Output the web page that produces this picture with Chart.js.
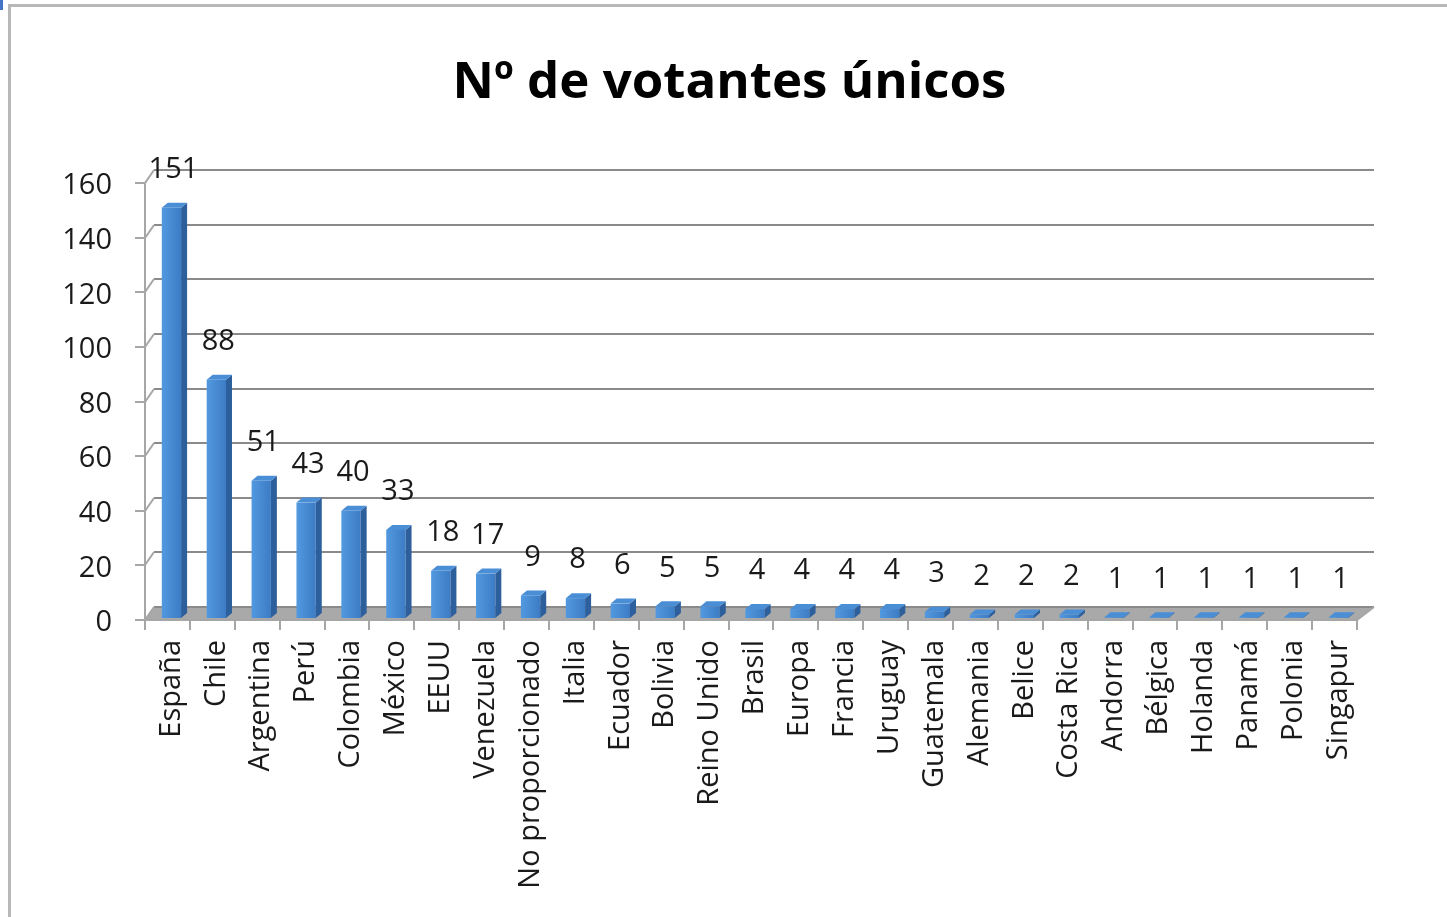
<!DOCTYPE html>
<html><head><meta charset="utf-8">
<script src="https://cdn.jsdelivr.net/npm/chart.js@4/dist/chart.umd.min.js"></script>
<style>html,body{margin:0;padding:0;background:#fff;overflow:hidden}</style>
</head><body>
<canvas id="c" width="1447" height="917" style="display:block;width:1447px;height:917px"></canvas>
<script>
const chartTitle = 'Nº de votantes únicos';
const categories = ['España','Chile','Argentina','Perú','Colombia','México','EEUU','Venezuela','No proporcionado','Italia','Ecuador','Bolivia','Reino Unido','Brasil','Europa','Francia','Uruguay','Guatemala','Alemania','Belice','Costa Rica','Andorra','Bélgica','Holanda','Panamá','Polonia','Singapur'];
const votantes = [151,88,51,43,40,33,18,17,9,8,6,5,5,4,4,4,4,3,2,2,2,1,1,1,1,1,1];
const yTicks = [0,20,40,60,80,100,120,140,160];

const FONT = '"Open Sans", sans-serif';
const DX_L = 9, DX_R = 17, DY = 13, SHIFT = 4;

const framePlugin = {
  id: 'frame',
  beforeDraw(chart) {
    const ctx = chart.ctx;
    ctx.save();
    ctx.fillStyle = '#fff';
    ctx.fillRect(0, 0, chart.width, chart.height);
    ctx.strokeStyle = '#b8b8b8';
    ctx.lineWidth = 3;
    ctx.beginPath();
    ctx.moveTo(9.5, chart.height);
    ctx.lineTo(9.5, 5.5);
    ctx.lineTo(chart.width, 5.5);
    ctx.stroke();
    ctx.fillStyle = '#4472c4';
    ctx.fillRect(0, 0, 3, 10);
    ctx.restore();
  }
};

const wallPlugin = {
  id: 'wall',
  beforeDatasetsDraw(chart) {
    const ctx = chart.ctx, a = chart.chartArea;
    const y = chart.scales.y, x = chart.scales.x;
    const L = a.left - SHIFT, R = a.right - SHIFT;
    const y0 = y.getPixelForValue(0);
    ctx.save();
    // floor
    ctx.fillStyle = '#a9a9a9';
    ctx.beginPath();
    ctx.moveTo(L, y0);
    ctx.lineTo(R, y0);
    ctx.lineTo(R + DX_R, y0 - DY);
    ctx.lineTo(L + DX_L, y0 - DY);
    ctx.closePath();
    ctx.fill();
    ctx.strokeStyle = '#cfcfcf';
    ctx.lineWidth = 1;
    ctx.stroke();
    // back gridlines
    ctx.strokeStyle = '#8a8a8a';
    ctx.lineWidth = 2;
    yTicks.forEach(v => {
      const py = Math.round(y.getPixelForValue(v)) - DY;
      ctx.beginPath();
      ctx.moveTo(L + DX_L, py);
      ctx.lineTo(R + DX_R, py);
      ctx.stroke();
    });
    // left axis
    ctx.strokeStyle = '#a6a6a6';
    ctx.lineWidth = 2;
    ctx.beginPath();
    ctx.moveTo(L, y.getPixelForValue(160));
    ctx.lineTo(L, y0);
    ctx.stroke();
    yTicks.forEach(v => {
      const py = Math.round(y.getPixelForValue(v));
      ctx.beginPath();
      ctx.moveTo(L - 10, py);
      ctx.lineTo(L, py);
      ctx.lineTo(L + DX_L, py - DY);
      ctx.stroke();
    });
    // front floor edge + x ticks
    ctx.beginPath();
    ctx.moveTo(L, y0);
    ctx.lineTo(R, y0);
    ctx.lineTo(R + DX_R, y0 - DY);
    ctx.stroke();
    const half = (x.getPixelForValue(1) - x.getPixelForValue(0)) / 2;
    for (let i = 0; i <= categories.length; i++) {
      const px = Math.round(x.getPixelForValue(i) - half - SHIFT);
      ctx.beginPath();
      ctx.moveTo(px, y0);
      ctx.lineTo(px, y0 + 10);
      ctx.stroke();
    }
    ctx.restore();
  },
  afterDatasetsDraw(chart) {
    const ctx = chart.ctx;
    const meta = chart.getDatasetMeta(0);
    ctx.save();
    meta.data.forEach((bar, i) => {
      const p = bar.getProps(['x', 'y', 'width', 'base'], true);
      const l = p.x - p.width / 2, r = p.x + p.width / 2;
      const sd = 6, su = 5;
      const base = p.base - 2;
      const g = ctx.createLinearGradient(l, 0, r, 0);
      g.addColorStop(0, '#5299e0');
      g.addColorStop(1, '#3c7cc5');
      ctx.fillStyle = g;
      ctx.fillRect(l, p.y, p.width, base - p.y);
      ctx.fillStyle = '#2c5f9c';
      ctx.beginPath();
      ctx.moveTo(r, p.y);
      ctx.lineTo(r + sd, p.y - su);
      ctx.lineTo(r + sd, base - su);
      ctx.lineTo(r, base);
      ctx.closePath();
      ctx.fill();
      ctx.fillStyle = '#4a8ed6';
      ctx.beginPath();
      ctx.moveTo(l, p.y);
      ctx.lineTo(r, p.y);
      ctx.lineTo(r + sd, p.y - su);
      ctx.lineTo(l + sd, p.y - su);
      ctx.closePath();
      ctx.fill();
      ctx.fillStyle = '#1a1a1a';
      ctx.font = '29px ' + FONT;
      ctx.textAlign = 'center';
      ctx.textBaseline = 'middle';
      ctx.fillText(String(votantes[i]), p.x + 2, p.y - 38);
    });
    ctx.restore();
  }
};

new Chart(document.getElementById('c'), {
  type: 'bar',
  data: {
    labels: categories,
    datasets: [{
      data: votantes,
      backgroundColor: 'rgba(0,0,0,0)',
      borderWidth: 0,
      barPercentage: 0.43,
      categoryPercentage: 1
    }]
  },
  options: {
    responsive: false,
    animation: false,
    devicePixelRatio: 1,
    layout: { padding: { left: 12, right: 0, top: 0, bottom: 0 } },
    plugins: {
      legend: { display: false },
      tooltip: { enabled: false },
      title: {
        display: true,
        text: chartTitle,
        color: '#000',
        font: { family: FONT, size: 51, weight: 'bold', lineHeight: 1.2 },
        padding: { top: 53, bottom: 69 }
      }
    },
    scales: {
      x: {
        grid: { display: false, drawTicks: false },
        border: { display: false },
        ticks: {
          autoSkip: false, maxRotation: 90, minRotation: 90, padding: 20,
          color: '#1a1a1a', font: { family: FONT, size: 29 }
        },
        afterFit(s) { s.height = 297; }
      },
      y: {
        min: 0, max: 160,
        grid: { display: false, drawTicks: false },
        border: { display: false },
        ticks: {
          stepSize: 20, padding: 37, labelOffset: 3,
          color: '#1a1a1a', font: { family: FONT, size: 29 }
        },
        afterFit(s) { s.width = 137; }
      },
      yR: {
        position: 'right',
        display: true,
        grid: { display: false, drawTicks: false },
        border: { display: false },
        ticks: { display: false },
        afterFit(s) { s.width = 86; }
      }
    }
  },
  plugins: [framePlugin, wallPlugin]
});
</script>
</body></html>
